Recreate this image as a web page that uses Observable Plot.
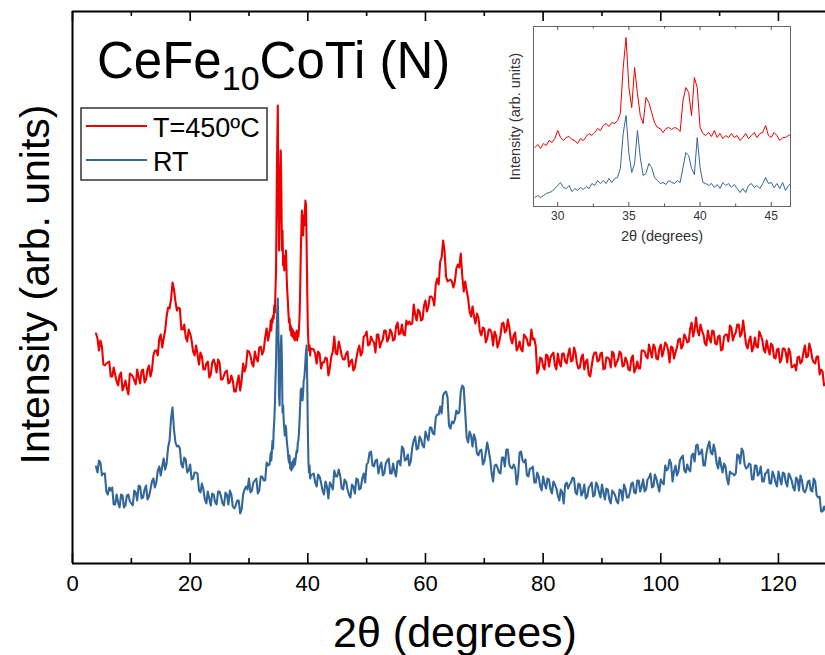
<!DOCTYPE html>
<html><head><meta charset="utf-8">
<script src="https://cdn.jsdelivr.net/npm/d3@7"></script>
<script src="https://cdn.jsdelivr.net/npm/@observablehq/plot@0.6"></script>
<style>
body{margin:0;background:#fff;}
#wrap{position:relative;width:825px;height:655px;overflow:hidden;background:#fff;}
#inset{position:absolute;left:503px;top:21px;}
</style></head><body><div id="wrap"></div>
<script>
// ---- main pattern: 2θ segments (start, step); values at grid points and at half-steps ----
const segAStart = 4.0, segAStep = 0.5;     // 4.0 .. 33.5
const redA = [
230,213,217,198,201,187,196,182,188,173,
183,169,189,183,194,180,194,184,198,193,
213,208,229,225,247,255,281,262,256,234,
239,222,230,212,218,199,207,194,202,189,
204,191,201,184,192,180,188,172,181,173,
200,197,212,200,212,202,217,213,235,232];
const redAmid = [
225,223,199,200,202,187,189,178,191,177,
175,190,187,179,186,193,181,194,187,208,
213,225,216,233,256,264,274,253,255,234,
226,234,223,208,209,211,194,200,186,201,
199,204,184,188,193,181,183,172,188,183,
192,213,208,197,205,216,209,226,223];
const blueA = [
97,103,88,90,69,73,59,69,56,68,
58,69,60,73,63,77,66,78,67,82,
76,93,88,105,100,123,156,121,118,99,
106,91,99,85,91,73,80,64,72,58,
69,59,72,60,71,59,69,55,63,50,
69,77,85,73,83,70,87,83,101,99];
const blueAmid = [
91,101,90,72,76,76,59,61,69,56,
68,62,58,71,78,65,74,64,74,85,
81,97,97,94,116,145,134,117,115,96,
104,93,84,91,90,71,74,60,65,70,
61,72,67,58,69,73,57,58,63,54,
74,74,71,81,85,73,87,83,98];

const segBStart = 33.6, segBStep = 0.1;    // 33.6 .. 40.5
const redB = [
235,243,233,245,241,248,245,258,251,273,
293,363,418,458,373,313,348,388,413,373,
313,333,298,308,293,305,301,313,288,273,
263,251,241,245,233,238,228,235,227,233,
225,231,223,230,225,233,223,231,227,235,
248,273,308,333,353,343,328,348,338,353,
363,358,318,273,238,221,213,218,208,215];
const blueB = [
105,111,103,113,123,115,133,143,158,183,
201,233,251,265,233,168,158,193,218,228,
203,151,158,143,135,128,138,135,125,118,
113,105,101,108,95,98,93,101,95,103,
97,105,99,103,108,113,111,121,123,131,
143,158,173,175,168,163,171,183,185,193,
203,213,218,183,135,103,91,98,85,88];

const segCStart = 41.0, segCStep = 0.5;    // 41.0 .. 128.0
const redC = [
214,200,210,201,206,188,207,227,209,216,
204,210,197,204,196,213,208,227,232,219,
223,211,229,221,233,222,234,223,237,229,
239,228,239,239,259,243,252,244,263,257,
267,258,285,302,323,287,283,282,282,299,
310,272,273,252,257,240,246,228,235,225,
234,218,228,221,240,231,244,225,228,213,
222,212,227,218,234,225,190,206,197,209,
197,209,198,210,197,210,200,215,203,211,
195,206,194,204,187,207,211,203,211,195,
206,196,210,201,212,197,206,194,205,191,
202,195,213,207,219,206,216,204,219,213,
219,201,216,211,224,215,229,221,235,227,
246,228,233,220,233,221,232,219,228,214,
229,222,236,228,239,227,243,219,223,212,
226,216,228,214,223,209,218,205,215,204,
215,201,211,197,193,207,202,218,207,214,
201,207,189,192,180];
const redCmid = [
210,212,195,201,205,196,212,210,222,208,
204,212,202,193,205,218,211,228,218,227,
221,229,216,224,233,225,231,224,241,230,
229,243,242,240,249,254,243,258,252,267,
265,279,279,306,312,282,284,276,295,296,
288,282,265,247,247,250,232,236,221,234,
230,232,216,228,241,233,236,220,231,216,
214,229,224,218,224,217,194,205,194,208,
206,211,194,201,210,202,209,202,216,200,
196,209,202,189,197,211,202,210,194,206,
204,212,197,204,210,198,202,193,208,195,
195,213,212,205,212,219,205,215,207,221,
213,217,205,216,225,218,226,222,241,234,
233,239,229,218,225,233,220,227,213,227,
229,238,223,231,239,230,231,215,227,216,
217,232,224,211,215,220,206,214,201,215,
211,215,196,199,206,200,211,206,220,205,
200,207,194,178];
const blueC = [
90,77,87,73,82,65,78,93,87,88,
74,82,69,79,70,84,75,90,99,111,
98,103,90,101,90,103,90,100,87,103,
117,103,109,102,123,114,127,118,132,123,
136,129,149,157,168,172,138,142,144,150,
172,176,126,132,117,124,108,114,102,121,
104,82,99,91,106,97,114,96,99,79,
111,103,104,87,95,81,91,77,87,75,
84,70,79,68,74,60,81,79,86,71,
80,68,79,67,78,67,81,71,79,64,
74,60,71,62,74,63,75,66,80,71,
83,72,84,74,86,76,89,78,84,79,
93,104,82,98,92,106,93,99,92,110,
118,109,114,98,117,111,119,100,106,91,
97,79,90,88,109,100,112,95,100,84,
98,88,97,82,91,80,92,81,92,79,
90,77,87,76,86,73,83,71,82,73,
85,68,67,52,53];
const blueCmid = [
81,89,81,69,77,81,74,87,94,75,
84,74,66,77,85,74,85,81,101,112,
97,104,97,88,100,105,90,92,102,98,
115,104,98,116,127,115,124,116,127,136,
130,146,149,150,171,166,135,140,153,151,
178,152,121,128,129,110,113,99,111,113,
90,98,96,90,106,114,99,95,95,88,
112,101,88,95,97,81,87,73,80,85,
74,82,75,63,71,79,75,81,85,69,
79,71,65,76,81,68,78,66,71,75,
64,73,68,60,73,79,66,71,81,70,
83,77,72,84,90,77,85,72,81,98,
95,100,92,88,103,108,91,94,108,102,
119,110,98,110,122,109,112,95,98,100,
85,92,90,90,108,115,99,96,99,84,
98,90,82,90,94,80,88,77,85,91,
81,90,83,73,84,88,73,75,83,72,
82,66,52,57];

// ---- inset (28.4 .. 46.4, step 0.2) ----
const insetStart = 28.4, insetStep = 0.2;
const insetRed = [
59,62,58,63,61,66,64,68,76,69,
66,69,70,67,66,63,68,66,70,73,
71,74,78,76,81,83,80,84,83,86,
93,139,169,119,99,139,113,91,83,109,
104,94,84,79,78,74,78,79,77,79,
78,75,106,119,114,91,129,119,79,73,
71,74,70,76,69,73,68,71,69,73,
69,71,66,69,73,68,71,74,69,73,
74,81,71,69,74,71,66,69,69,71,
72];
const insetBlue = [
9,11,9,11,13,14,15,18,21,24,
19,18,21,15,18,16,19,17,20,18,
23,21,26,23,26,23,28,24,28,29,
38,73,91,53,34,43,76,49,31,33,
43,39,29,26,23,24,22,26,24,23,
26,24,39,54,51,38,32,69,39,24,
23,21,23,19,22,18,24,21,23,19,
22,18,14,18,14,21,23,19,21,18,
23,29,23,24,19,23,18,24,16,21,
23];

// ---- ticks, labels ----
const xTicks = [0, 20, 40, 60, 80, 100, 120];
const xMinor = [10, 30, 50, 70, 90, 110];
const insetTicks = [30, 35, 40, 45];
const insetMinor = [32.5, 37.5, 42.5];
const seriesNames = ["T=450ºC", "RT"];
const seriesColors = ["#ee0000", "#336699"];

function build(start, step, vals, mids) {
  const out = [];
  vals.forEach((v, i) => {
    out.push({x: +(start + i * step).toFixed(3), y: v});
    if (mids && i < mids.length) out.push({x: +(start + (i + 0.5) * step).toFixed(3), y: mids[i]});
  });
  return out;
}
const red = [...build(segAStart, segAStep, redA, redAmid), ...build(segBStart, segBStep, redB), ...build(segCStart, segCStep, redC, redCmid)];
const blue = [...build(segAStart, segAStep, blueA, blueAmid), ...build(segBStart, segBStep, blueB), ...build(segCStart, segCStep, blueC, blueCmid)];
const iRed = build(insetStart, insetStep, insetRed);
const iBlue = build(insetStart, insetStep, insetBlue);

const FONT = "'Liberation Sans', Arial, sans-serif";
const TOP = 552;

const main = Plot.plot({
  width: 825, height: 655,
  marginLeft: 72, marginRight: 0, marginTop: 11, marginBottom: 92,
  x: {domain: [0, 128]},
  y: {domain: [0, TOP], axis: null},
  style: {fontFamily: FONT, background: "white", color: "black"},
  marks: [
    Plot.line(red, {x: "x", y: "y", stroke: seriesColors[0], strokeWidth: 2.1, clip: true}),
    Plot.line(blue, {x: "x", y: "y", stroke: seriesColors[1], strokeWidth: 2.1, clip: true}),
    Plot.ruleY([0], {stroke: "black", strokeWidth: 2}),
    Plot.ruleY([TOP], {stroke: "black", strokeWidth: 2}),
    Plot.ruleX([0], {stroke: "black", strokeWidth: 2}),
    Plot.ruleX(xTicks, {x: d => d, y1: 0, y2: 10, stroke: "black", strokeWidth: 1.6}),
    Plot.ruleX(xMinor, {x: d => d, y1: 0, y2: 5, stroke: "black", strokeWidth: 1.6}),
    Plot.ruleX(xTicks, {x: d => d, y1: TOP - 10, y2: TOP, stroke: "black", strokeWidth: 1.6}),
    Plot.ruleX(xMinor, {x: d => d, y1: TOP - 5, y2: TOP, stroke: "black", strokeWidth: 1.6}),
    Plot.axisX({ticks: xTicks, tickSize: 0, tickPadding: 12, fontSize: 22, fill: "black", label: null}),
    Plot.text(["2θ (degrees)"], {frameAnchor: "bottom", lineAnchor: "middle", textAnchor: "middle", dx: 6, dy: 70, fontSize: 43, fill: "black"}),
    Plot.text(["Intensity (arb. units)"], {frameAnchor: "left", textAnchor: "middle", lineAnchor: "middle", rotate: -90, dx: -37, dy: -3, fontSize: 41, fill: "black"})
  ]
});

const svg = d3.select(main);
// title with subscript
const t = svg.append("text").attr("x", 97).attr("y", 78).attr("text-anchor", "start")
  .attr("font-family", FONT).attr("font-size", 51).attr("fill", "black");
t.append("tspan").text("CeFe");
t.append("tspan").attr("font-size", 34).attr("dy", 12).text("10");
t.append("tspan").attr("dy", -12).text("CoTi (N)");

// legend
const lg = svg.append("g").attr("font-family", FONT).attr("text-anchor", "start");
lg.append("rect").attr("x", 81).attr("y", 108).attr("width", 186).attr("height", 72)
  .attr("fill", "white").attr("stroke", "#333").attr("stroke-width", 1.5);
seriesNames.forEach((name, i) => {
  const yy = 126 + i * 34;
  lg.append("line").attr("x1", 86).attr("x2", 147).attr("y1", yy).attr("y2", yy)
    .attr("stroke", seriesColors[i]).attr("stroke-width", 2.2);
  lg.append("text").attr("x", 153).attr("y", yy + 11).attr("font-size", 27)
    .attr("text-anchor", "start").attr("fill", "black").text(name);
});

const inset = Plot.plot({
  width: 292, height: 225,
  marginLeft: 30, marginRight: 5, marginTop: 5, marginBottom: 40,
  x: {domain: [28.3, 46.35]},
  y: {domain: [0, 180], axis: null},
  style: {fontFamily: FONT, background: "transparent", color: "#333"},
  marks: [
    Plot.line(iRed, {x: "x", y: "y", stroke: seriesColors[0], strokeWidth: 1, clip: true}),
    Plot.line(iBlue, {x: "x", y: "y", stroke: seriesColors[1], strokeWidth: 1, clip: true}),
    Plot.frame({stroke: "#666", strokeWidth: 1}),
    Plot.ruleX(insetTicks, {x: d => d, y1: 0, y2: 4, stroke: "#555"}),
    Plot.ruleX(insetMinor, {x: d => d, y1: 0, y2: 2.5, stroke: "#555"}),
    Plot.ruleX(insetTicks, {x: d => d, y1: 176, y2: 180, stroke: "#555"}),
    Plot.ruleX(insetMinor, {x: d => d, y1: 177.5, y2: 180, stroke: "#555"}),
    Plot.axisX({ticks: insetTicks, tickSize: 0, tickPadding: 5, fontSize: 12, fill: "#333", label: null}),
    Plot.text(["2θ (degrees)"], {frameAnchor: "bottom", lineAnchor: "middle", textAnchor: "middle", dy: 30, fontSize: 14.5, fill: "#333"}),
    Plot.text(["Intensity (arb. units)"], {frameAnchor: "left", textAnchor: "middle", lineAnchor: "middle", rotate: -90, dx: -18, fontSize: 14.5, fill: "#333"})
  ]
});
inset.id = "inset";

const wrap = document.getElementById("wrap");
wrap.appendChild(main);
wrap.appendChild(inset);
</script>
</body></html>
